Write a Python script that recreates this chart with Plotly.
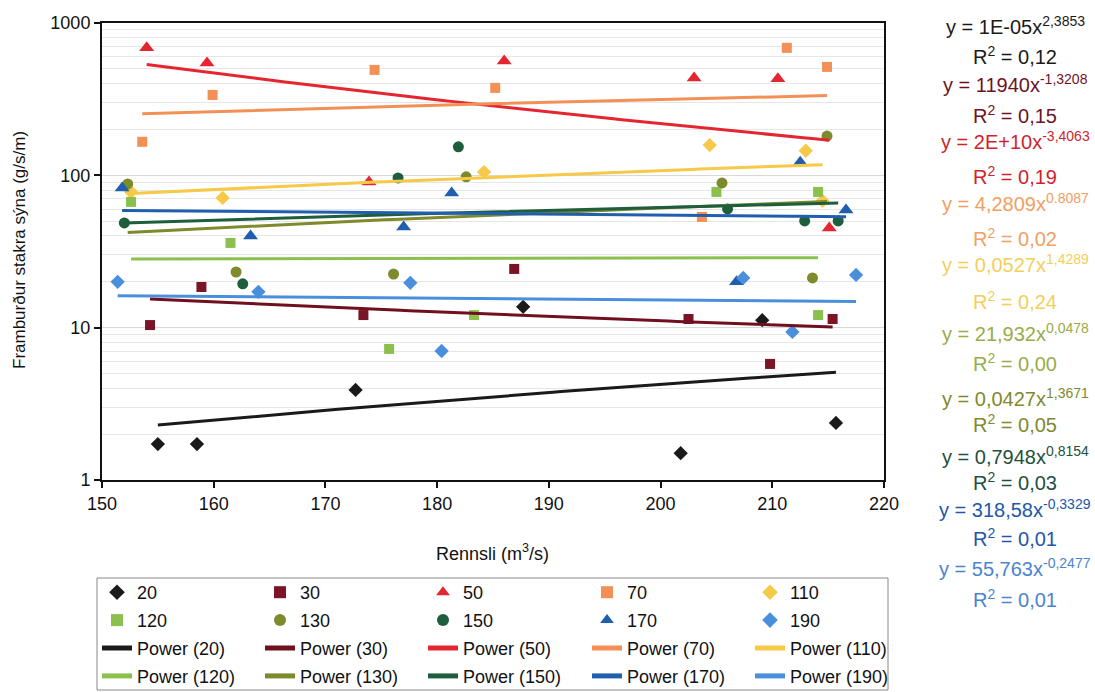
import numpy as np
import plotly.graph_objects as go

# ---- data (x = Rennsli m3/s, y = g/s/m) ----
x20 = [155.0, 158.5, 172.7, 187.7, 201.8, 209.1, 215.7]
y20 = [1.72, 1.72, 3.90, 13.7, 1.50, 11.2, 2.37]
x30 = [154.3, 158.9, 173.4, 186.9, 202.5, 209.8, 215.4]
y30 = [10.4, 18.5, 12.1, 24.3, 11.4, 5.78, 11.4]
x50 = [154.0, 159.4, 173.9, 186.0, 203.0, 210.5, 215.1]
y50 = [687, 547, 90.5, 564, 436, 430, 45.1]
x70 = [153.6, 159.9, 174.4, 185.2, 203.7, 211.3, 214.9]
y70 = [166, 337, 492, 375, 53.3, 687, 515]
x110 = [152.6, 160.8, 184.2, 204.4, 213.0, 214.5]
y110 = [77.8, 71.1, 105, 158, 145, 68]
x120 = [152.6, 161.5, 175.7, 183.3, 205.0, 214.1, 214.1]
y120 = [66.9, 36.0, 7.25, 12.1, 77.8, 77.8, 12.1]
x130 = [152.3, 162.0, 176.1, 182.6, 205.5, 214.9, 213.6]
y130 = [87.8, 23.2, 22.5, 97.7, 89.1, 181, 21.2]
x150 = [152.0, 162.6, 176.5, 181.9, 206.0, 212.9, 215.9]
y150 = [48.7, 19.4, 96.1, 154, 60.2, 50.2, 50.2]
x170 = [151.8, 163.3, 177.0, 181.3, 206.8, 212.5, 216.6]
y170 = [82.7, 40.0, 45.8, 76.6, 20.0, 122, 59.3]
x190 = [151.4, 164.0, 177.6, 180.4, 207.4, 211.8, 217.5]
y190 = [20.0, 17.2, 19.7, 7.03, 21.2, 9.37, 22.2]

names = ["20", "30", "50", "70", "110", "120", "130", "150", "170", "190"]
xs = [x20, x30, x50, x70, x110, x120, x130, x150, x170, x190]
ys = [y20, y30, y50, y70, y110, y120, y130, y150, y170, y190]

# equation labels shown beside the chart
eq_coef = ["1E-05", "11940", "2E+10", "4,2809", "0,0527", "21,932", "0,0427", "0,7948", "318,58", "55,763"]
eq_exp = ["2,3853", "-1,3208", "-3,4063", "0.8087", "1,4289", "0,0478", "1,3671", "0,8154", "-0,3329", "-0,2477"]
eq_r2 = ["0,12", "0,15", "0,19", "0,02", "0,24", "0,00", "0,05", "0,03", "0,01", "0,01"]

x_ticks = [150, 160, 170, 180, 190, 200, 210, 220]
y_ticks = [1, 10, 100, 1000]

# ---- styles ----
marker_colors = ["#1a1a1a", "#7a1426", "#e3262f", "#f29055", "#f7c948",
                 "#8cc04e", "#7e8a2c", "#1e5e3c", "#1f5fae", "#4a8fdc"]
line_colors = ["#1a1a1a", "#70101f", "#e3262f", "#f29055", "#f7c948",
               "#8cc04e", "#7e8a2c", "#1e5e3c", "#1f5fae", "#4a8fdc"]
eq_colors = ["#1a1a1a", "#6e1326", "#d11f2c", "#f0a064", "#f2cf5a",
             "#98ac4a", "#7e8a2c", "#1e5040", "#2356a8", "#4a84d0"]
symbols = ["diamond", "square", "triangle-up", "square", "diamond",
           "square", "circle", "circle", "triangle-up", "diamond"]
sizes = [11, 10, 13, 10, 11, 10, 11, 11, 13, 11]

FONT = "Arial, Liberation Sans, sans-serif"
W, H = 1095, 692
PL, PR, PT, PB = 102, 884, 23, 480  # plot area in pixels


def px_x(p):
    return (p - PL) / (PR - PL)


def px_y(p):
    return (PB - p) / (PB - PT)


# legend is laid out as 5 columns (one legend per column)
N_COLS = 5
col_x = [97, 260, 423, 587, 750]


def legend_key(i):
    c = i % N_COLS
    return "legend" if c == 0 else f"legend{c + 1}"


fig = go.Figure()

for i, n in enumerate(names):
    fig.add_trace(go.Scatter(
        x=xs[i], y=ys[i], mode="markers", name=n,
        legend=legend_key(i), legendgroup=f"m{i}",
        marker=dict(symbol=symbols[i], size=sizes[i], color=marker_colors[i],
                    line=dict(width=0)),
    ))

# power trendlines (least squares fit in log-log space, as Excel does)
for i, n in enumerate(names):
    lx = np.log(np.array(xs[i], dtype=float))
    ly = np.log(np.array(ys[i], dtype=float))
    b, lna = np.polyfit(lx, ly, 1)
    xt = np.linspace(min(xs[i]), max(xs[i]), 80)
    yt = np.exp(lna) * xt ** b
    fig.add_trace(go.Scatter(
        x=xt, y=yt, mode="lines", name=f"Power ({n})",
        legend=legend_key(i), legendgroup=f"l{i}",
        line=dict(color=line_colors[i], width=3),
    ))

# equations
eq_y = [25, 83, 140, 202, 263, 332, 397, 455, 508, 567]
r2_y = [55, 115, 175, 237, 300, 362, 423, 482, 537, 598]
for i in range(len(names)):
    fig.add_annotation(xref="paper", yref="paper", x=px_x(1015), y=px_y(eq_y[i]),
                       xanchor="center", yanchor="middle",
                       text=f"y = {eq_coef[i]}x<sup>{eq_exp[i]}</sup>", showarrow=False,
                       font=dict(family=FONT, size=20, color=eq_colors[i]))
    fig.add_annotation(xref="paper", yref="paper", x=px_x(1015), y=px_y(r2_y[i]),
                       xanchor="center", yanchor="middle",
                       text=f"R<sup>2</sup> = {eq_r2[i]}", showarrow=False,
                       font=dict(family=FONT, size=20, color=eq_colors[i]))

# axis titles
fig.add_annotation(xref="paper", yref="paper", x=px_x(492), y=px_y(552),
                   xanchor="center", yanchor="middle", showarrow=False,
                   text="Rennsli (m<sup>3</sup>/s)", font=dict(family=FONT, size=18, color="#111"))
fig.add_annotation(xref="paper", yref="paper", x=px_x(19), y=px_y(250),
                   xanchor="center", yanchor="middle", showarrow=False, textangle=-90,
                   text="Framburður stakra sýna (g/s/m)", font=dict(family=FONT, size=17, color="#111"))

# legend frame
fig.add_shape(type="rect", xref="paper", yref="paper",
              x0=px_x(97), x1=px_x(888), y0=px_y(578), y1=px_y(690),
              line=dict(color="#888", width=1), fillcolor="white", layer="below")

legends = {}
for c in range(N_COLS):
    key = "legend" if c == 0 else f"legend{c + 1}"
    legends[key] = dict(orientation="v", xref="paper", yref="container",
                        x=px_x(col_x[c]), y=1 - 574 / H, xanchor="left", yanchor="top",
                        bgcolor="rgba(0,0,0,0)", borderwidth=0, tracegroupgap=1.5,
                        font=dict(family=FONT, size=18, color="#111"), itemsizing="constant")

fig.update_layout(
    width=W, height=H,
    margin=dict(l=PL, r=W - PR, t=PT, b=H - PB),
    paper_bgcolor="white", plot_bgcolor="white",
    font=dict(family=FONT, size=17, color="#111"),
    showlegend=True,
    **legends,
    xaxis=dict(range=[150, 220], tickvals=x_ticks, ticks="outside", ticklen=6,
               tickwidth=1.5, tickcolor="#111", showgrid=False, zeroline=False,
               showline=True, linecolor="#111", linewidth=2, mirror=True,
               tickfont=dict(family=FONT, size=18)),
    yaxis=dict(type="log", range=[0, 3], tickvals=y_ticks, ticktext=[str(v) for v in y_ticks],
               ticks="outside", ticklen=6, tickwidth=1.5, tickcolor="#111",
               showgrid=True, gridcolor="#d8d8d8", gridwidth=1,
               minor=dict(dtick="D1", showgrid=True, gridcolor="#e6e6e6", gridwidth=1),
               showline=True, linecolor="#111", linewidth=2, mirror=True,
               tickfont=dict(family=FONT, size=18)),
)

fig.write_html("out.html")
